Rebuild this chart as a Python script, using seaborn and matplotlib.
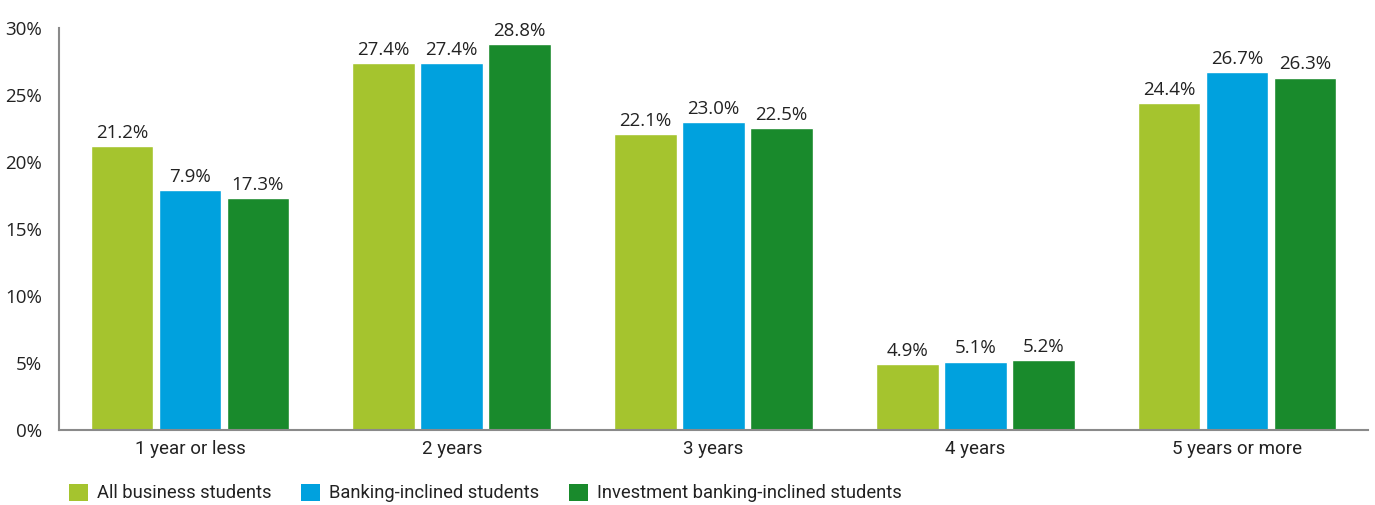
import matplotlib
matplotlib.use("Agg")
import matplotlib.pyplot as plt
import seaborn as sns
import pandas as pd
from matplotlib.patches import Patch

categories = ["1 year or less", "2 years", "3 years", "4 years", "5 years or more"]
series_names = ["All business students", "Banking-inclined students",
                "Investment banking-inclined students"]
all_business = [21.2, 27.4, 22.1, 4.9, 24.4]
banking_inclined = [17.9, 27.4, 23.0, 5.1, 26.7]
ib_inclined = [17.3, 28.8, 22.5, 5.2, 26.3]
# value labels as printed on the chart
all_business_labels = ["21.2%", "27.4%", "22.1%", "4.9%", "24.4%"]
banking_inclined_labels = ["7.9%", "27.4%", "23.0%", "5.1%", "26.7%"]
ib_inclined_labels = ["17.3%", "28.8%", "22.5%", "5.2%", "26.3%"]
y_ticks = [0, 5, 10, 15, 20, 25, 30]
y_tick_labels = ["0%", "5%", "10%", "15%", "20%", "25%", "30%"]

colors = ["#A5C42E", "#00A1DE", "#198A2C"]

rows = []
for name, vals in zip(series_names, [all_business, banking_inclined, ib_inclined]):
    for c, v in zip(categories, vals):
        rows.append({"category": c, "series": name, "value": v})
df = pd.DataFrame(rows)

sns.set_style("white")
plt.rcParams["font.family"] = ["Open Sans", "DejaVu Sans"]

fig = plt.figure(figsize=(13.75, 5.05), dpi=100)
ax = fig.add_axes([59 / 1375, 1 - 430 / 505, (1368 - 59) / 1375, (430 - 28) / 505])

sns.barplot(data=df, x="category", y="value", hue="series", order=categories,
            hue_order=series_names, palette=colors, width=0.78, gap=0.08,
            saturation=1, ax=ax, legend=False, errorbar=None)

for cont, labs in zip(ax.containers, [all_business_labels, banking_inclined_labels, ib_inclined_labels]):
    ax.bar_label(cont, labels=labs, padding=3, fontsize=13.5, color="#222222")

ax.set_xlim(-0.5, 4.5)
ax.set_ylim(0, 30)
ax.set_yticks(y_ticks)
ax.set_yticklabels(y_tick_labels, fontsize=13.5, color="#222222")
ax.tick_params(axis="y", length=0, pad=12)
ax.tick_params(axis="x", length=0, pad=7)
for lab in ax.get_xticklabels():
    lab.set_fontfamily(["Roboto", "DejaVu Sans"])
    lab.set_fontsize(13.5)
    lab.set_color("#222222")
ax.set_xlabel("")
ax.set_ylabel("")
for s in ["top", "right"]:
    ax.spines[s].set_visible(False)
for s in ["left", "bottom"]:
    ax.spines[s].set_color("#8a8a8a")
    ax.spines[s].set_linewidth(1.5)

handles = [Patch(facecolor=c, edgecolor="none") for c in colors]
leg = fig.legend(handles, series_names, loc="center left",
                 bbox_to_anchor=(52 / 1375, 1 - 493 / 505),
                 ncol=3, frameon=False, handlelength=1.05, handleheight=1.05,
                 handletextpad=0.5, columnspacing=1.6,
                 prop={"family": ["Roboto", "DejaVu Sans"], "size": 13.2})
for t in leg.get_texts():
    t.set_color("#222222")

fig.savefig("out.png", dpi=100)
